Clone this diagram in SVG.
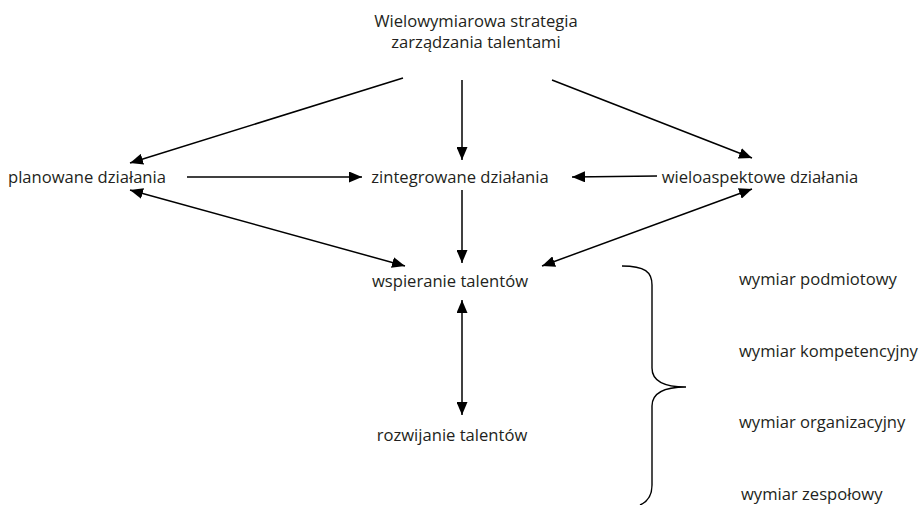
<svg xmlns="http://www.w3.org/2000/svg" width="922" height="505" viewBox="0 0 922 505">
<style>
text{font-family:"Open Sans","Liberation Sans",sans-serif;font-size:16.6px;fill:#231f20}
.c text{text-anchor:middle}
.con line{stroke:#000;stroke-width:1.5}
.brace{fill:none;stroke:#000;stroke-width:1.4}
</style>
<defs>
<marker id="ah" viewBox="0 0 13 11" refX="13" refY="5.5" markerWidth="13" markerHeight="11" markerUnits="userSpaceOnUse" orient="auto-start-reverse">
<path d="M0,0 L13,5.5 L0,11 Z" fill="#000"/>
</marker>
</defs>
<rect width="922" height="505" fill="#fff"/>
<g id="n-strategia" class="c"><text x="476" y="27">Wielowymiarowa strategia</text><text x="476" y="48">zarządzania talentami</text></g>
<g id="n-planowane" class="c"><text x="87" y="183">planowane działania</text></g>
<g id="n-zintegrowane" class="c"><text x="460" y="183">zintegrowane działania</text></g>
<g id="n-wieloaspektowe" class="c"><text x="760" y="183">wieloaspektowe działania</text></g>
<g id="n-wspieranie" class="c"><text x="450" y="287">wspieranie talentów</text></g>
<g id="n-rozwijanie" class="c"><text x="452" y="441">rozwijanie talentów</text></g>
<g id="n-wymiary">
<text x="739" y="285">wymiar podmiotowy</text>
<text x="739" y="357">wymiar kompetencyjny</text>
<text x="739" y="428">wymiar organizacyjny</text>
<text x="741" y="500">wymiar zespołowy</text>
</g>
<g id="connectors" class="con">
<line x1="403" y1="78" x2="130" y2="163" marker-end="url(#ah)"/>
<line x1="462" y1="80" x2="462" y2="160" marker-end="url(#ah)"/>
<line x1="552" y1="80" x2="752" y2="158" marker-end="url(#ah)"/>
<line x1="187" y1="177" x2="362" y2="177" marker-end="url(#ah)"/>
<line x1="657" y1="176" x2="572" y2="177" marker-end="url(#ah)"/>
<line x1="462" y1="190" x2="462" y2="263" marker-end="url(#ah)"/>
<line x1="130" y1="190" x2="405" y2="266" marker-start="url(#ah)" marker-end="url(#ah)"/>
<line x1="752" y1="189" x2="542" y2="266" marker-start="url(#ah)" marker-end="url(#ah)"/>
<line x1="462" y1="300" x2="462" y2="415" marker-start="url(#ah)" marker-end="url(#ah)"/>
</g>
<g id="brace"><path class="brace" d="M622,266 C645,266 652,272 652,285 L652,368 C652,380 662,387 686,387 C662,387 652,394 652,406 L652,485 C652,497 647,502 640,505"/></g>
</svg>
